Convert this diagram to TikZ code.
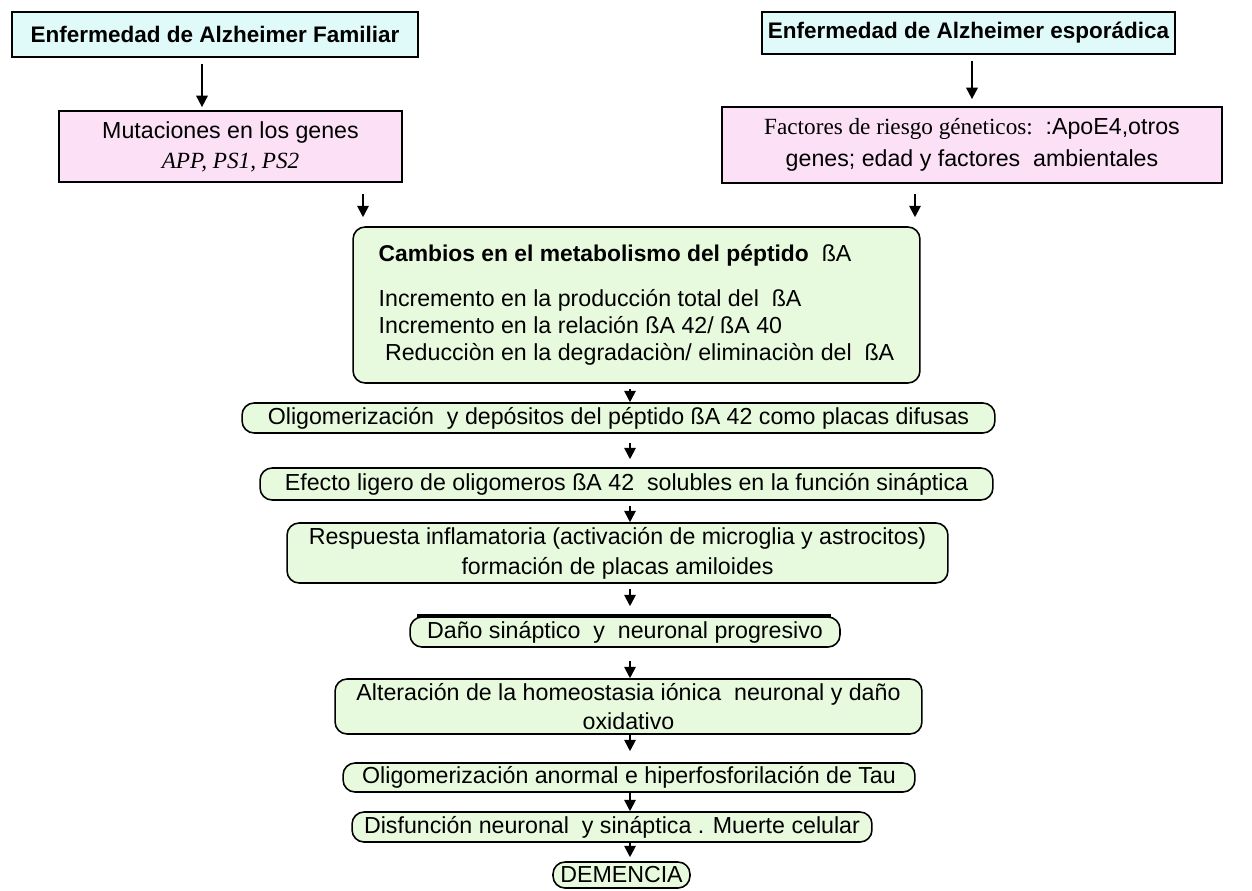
\documentclass[tikz,border=0pt]{standalone}
\usepackage{fontspec}
\setmainfont{Liberation Sans}
\newfontfamily\serifface{Liberation Serif}
\usetikzlibrary{arrows.meta}
\definecolor{celeste}{RGB}{224,250,250}
\definecolor{rosa}{RGB}{251,224,246}
\definecolor{verde}{RGB}{232,250,222}

\begin{document}
\begin{tikzpicture}[x=0.02cm, y=-0.02cm,
    font=\fontsize{13.2}{17}\selectfont,
    origen/.style={rectangle, draw, line width=1pt, fill=celeste, inner sep=0pt, font=\fontsize{12.8}{15}\selectfont\bfseries},
    factor/.style={rectangle, draw, line width=1pt, fill=rosa, inner sep=0pt, align=center},
    etapa/.style={rectangle, draw, line width=0.9pt, fill=verde, rounded corners=0.24cm, inner sep=0pt, align=center},
    flecha/.style={-{Triangle[width=6.5pt,length=6.5pt]}, line width=1.1pt}]
    %cascada amiloide
    \useasboundingbox (0,0) rectangle (1252,890);
    \coordinate (ejeI) at (202,0);
    \coordinate (ejeD) at (972,0);
    \coordinate (ejeA) at (363,0);
    \coordinate (ejeB) at (915,0);
    \coordinate (eje) at (630,0);

    \node[origen, minimum width=8.12cm, minimum height=0.9cm](famil) at (215,34.5) {Enfermedad de Alzheimer Familiar};
    \node[origen, minimum width=8.26cm, minimum height=0.84cm](espor) at (968.5,33) {Enfermedad de Alzheimer esporádica};
    \node[factor, minimum width=6.86cm, minimum height=1.42cm](mutac) at (230.5,146.5) {Mutaciones en los genes\\ {\serifface\itshape APP, PS1, PS2}};
    \node[factor, minimum width=10cm, minimum height=1.52cm, font=\fontsize{13.2}{18}\selectfont](factr) at (972,145) {{\serifface Factores de riesgo géneticos:}\ \ :ApoE4,otros\\ genes; edad y factores\ \ ambientales};
    \node[etapa, minimum width=11.34cm, minimum height=3.12cm, align=left, font=\fontsize{13.2}{15.5}\selectfont](metab) at (636.5,305) {{\fontsize{13}{15.5}\selectfont\bfseries Cambios en el metabolismo del péptido}\ \ ßA\\[10pt]
        Incremento en la producción total del\ \ ßA\\
        Incremento en la relación ßA 42/ ßA 40\\
        \ Reducciòn en la degradaciòn/ eliminaciòn del\ \ ßA};

    \node[etapa, minimum width=15.06cm, minimum height=0.6cm](oligo) at (618.5,418) {Oligomerización\ \ y depósitos del péptido ßA 42 como placas difusas};
    \node[etapa, minimum width=14.66cm, minimum height=0.64cm](efect) at (626.5,484) {Efecto ligero de oligomeros ßA 42\ \ solubles en la función sináptica};
    \node[etapa, minimum width=13.22cm, minimum height=1.2cm](respu) at (617.5,553) {Respuesta inflamatoria (activación de microglia y astrocitos)\\ formación de placas amiloides};
    \node[etapa, minimum width=8.6cm, minimum height=0.6cm](dano) at (625,632) {Daño sináptico\ \ y\ \ neuronal progresivo};
    \node[etapa, minimum width=11.74cm, minimum height=1.1cm](alter) at (628.5,706.5) {Alteración de la homeostasia iónica\ \ neuronal y daño\\ oxidativo};
    \node[etapa, minimum width=11.44cm, minimum height=0.58cm](tau) at (629,777.5) {Oligomerización anormal e hiperfosforilación de Tau};
    \node[etapa, minimum width=10.4cm, minimum height=0.6cm](disfu) at (612,827) {Disfunción neuronal\ \ y sináptica . Muerte celular};
    \node[etapa, minimum width=2.74cm, minimum height=0.52cm](demen) at (621.5,875) {DEMENCIA};
    \draw[line width=2pt] ([xshift=0.16cm]dano.north west) -- ([xshift=-0.2cm]dano.north east);

    \draw[flecha, shorten <=0.12cm, shorten >=0.06cm] (famil.south -| ejeI) -- (mutac.north -| ejeI);
    \draw[flecha, shorten <=0.12cm, shorten >=0.14cm] (espor.south -| ejeD) -- (factr.north -| ejeD);
    \draw[flecha, shorten <=0.22cm, shorten >=0.18cm] (mutac.south -| ejeA) -- (metab.north -| ejeA);
    \draw[flecha, shorten <=0.2cm, shorten >=0.18cm] (factr.south -| ejeB) -- (metab.north -| ejeB);
    \draw[flecha, shorten <=0.1cm] (metab.south -| eje) -- (oligo.north -| eje);
    \draw[flecha, shorten <=0.18cm, shorten >=0.16cm] (oligo.south -| eje) -- (efect.north -| eje);
    \draw[flecha, shorten <=0.1cm] (efect.south -| eje) -- (respu.north -| eje);
    \draw[flecha, shorten <=0.1cm, shorten >=0.2cm] (respu.south -| eje) -- (dano.north -| eje);
    \draw[flecha, shorten <=0.26cm] (dano.south -| eje) -- (alter.north -| eje);
    \draw[flecha, shorten >=0.22cm] (alter.south -| eje) -- (tau.north -| eje);
    \draw[flecha] (tau.south -| eje) -- (disfu.north -| eje);
    \draw[flecha, shorten >=0.08cm] (disfu.south -| eje) -- (demen.north -| eje);
\end{tikzpicture}
\end{document}
